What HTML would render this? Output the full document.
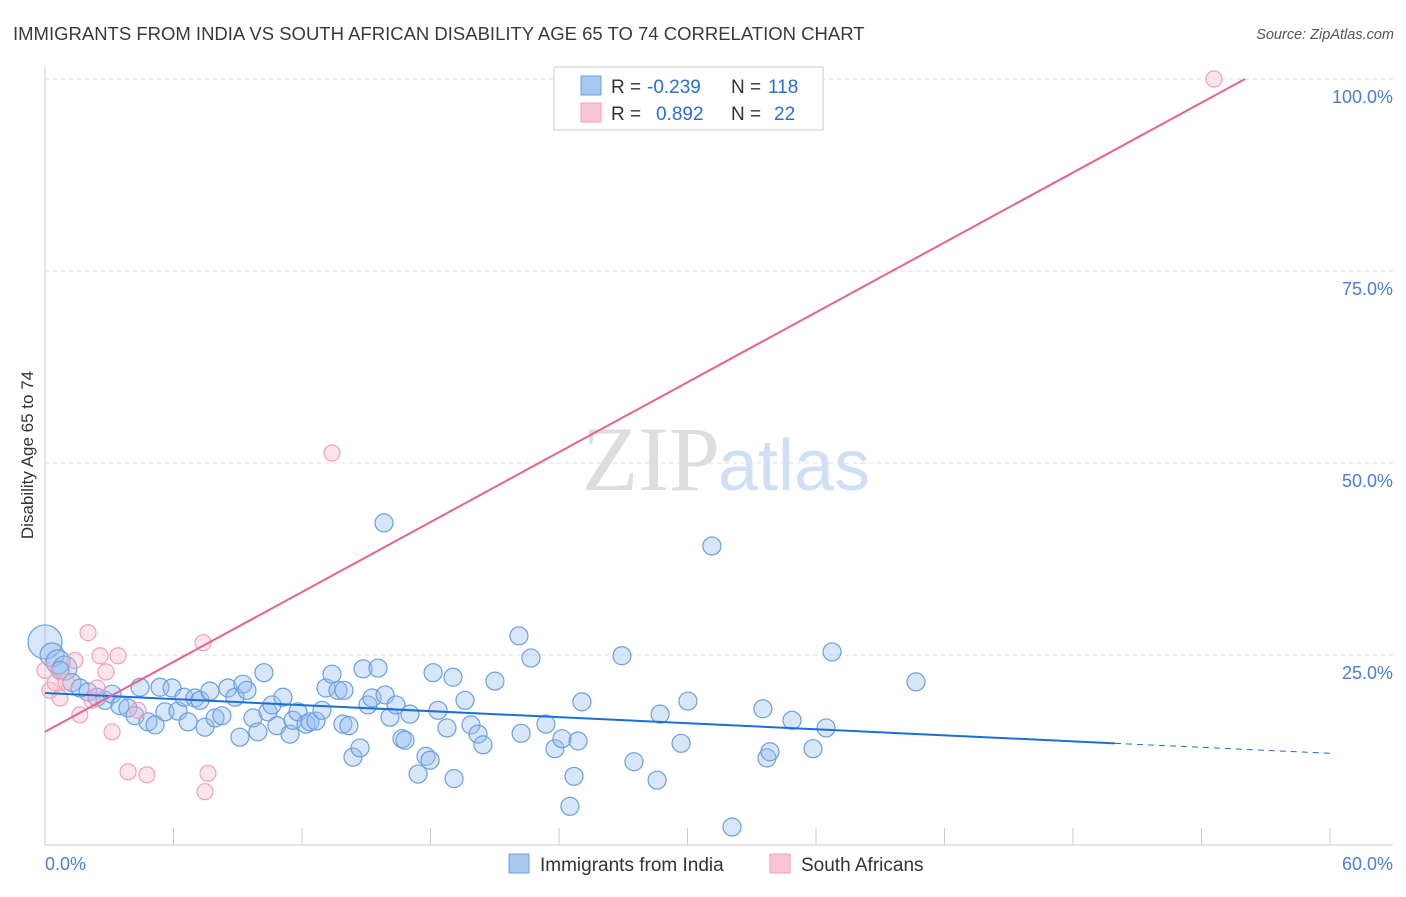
<!DOCTYPE html>
<html><head><meta charset="utf-8"><style>
body{margin:0;background:#fff;font-family:"Liberation Sans",sans-serif}
</style></head><body>
<svg id="c" width="1406" height="892" xmlns="http://www.w3.org/2000/svg" style="font-family:'Liberation Sans',sans-serif">
<text x="13" y="40" font-size="18.5" fill="#3a3a3a">IMMIGRANTS FROM INDIA VS SOUTH AFRICAN DISABILITY AGE 65 TO 74 CORRELATION CHART</text>
<text x="1394" y="39" font-size="14.5" fill="#555" text-anchor="end" font-style="italic">Source: ZipAtlas.com</text>
<text transform="translate(33,455) rotate(-90)" font-size="17" fill="#333" text-anchor="middle">Disability Age 65 to 74</text>
<text x="720" y="490" font-size="92" fill="#ddd" text-anchor="end" font-family="Liberation Serif,serif">ZIP</text>
<text x="718" y="490" font-size="72" fill="#cfe0f5">atlas</text>
<g id="grid"></g><g id="marks"></g>
<g>
<rect x="554" y="67" width="269" height="63" fill="#fff" stroke="#ccc"/>
<rect x="581" y="76" width="20" height="19" fill="#a8c8f0" stroke="#6a9fe0"/>
<rect x="581" y="103" width="20" height="19" fill="#f9c6d4" stroke="#f0a0b8"/>
<text x="611" y="93" font-size="19" fill="#333">R =</text>
<text x="647" y="93" font-size="19" fill="#2a6fd0">-0.239</text>
<text x="731" y="93" font-size="19" fill="#333">N =</text>
<text x="768" y="93" font-size="19" fill="#2a6fd0">118</text>
<text x="611" y="120" font-size="19" fill="#333">R =</text>
<text x="656" y="120" font-size="19" fill="#2a6fd0">0.892</text>
<text x="731" y="120" font-size="19" fill="#333">N =</text>
<text x="774" y="120" font-size="19" fill="#2a6fd0">22</text>
</g>
<text x="45" y="870" font-size="18" fill="#4a7fd4">0.0%</text>
<text x="1393" y="870" font-size="18" fill="#4a7fd4" text-anchor="end">60.0%</text>
<g>
<rect x="509" y="854" width="20" height="19" fill="#a8c8f0" stroke="#6a9fe0"/>
<text x="540" y="871" font-size="19" fill="#333">Immigrants from India</text>
<rect x="770" y="854" width="20" height="19" fill="#f9c6d4" stroke="#f0a0b8"/>
<text x="801" y="871" font-size="19" fill="#333">South Africans</text>
</g>
</svg>
<script>
const yTicks=[25,50,75,100];
const yTickLabels=["25.0%","50.0%","75.0%","100.0%"];
const indiaX=[0,0.33,0.61,0.93,0.70,1.26,1.63,2.01,2.43,2.80,3.13,3.50,3.87,4.20,4.44,4.81,5.14,5.37,5.60,5.93,6.21,6.49,6.68,7.00,7.24,7.47,7.70,7.94,8.26,8.54,8.87,9.10,9.24,9.43,9.71,9.94,10.22,10.41,10.60,10.83,11.11,11.44,11.58,11.81,12.19,12.37,12.65,12.93,13.12,13.40,13.68,13.96,13.91,14.19,14.38,14.71,14.85,15.08,15.27,15.55,15.88,15.83,16.11,16.39,16.67,16.81,17.04,17.42,17.79,17.98,18.12,18.35,18.77,19.05,19.10,19.61,19.89,20.22,20.45,21.01,22.13,22.23,22.69,23.39,23.81,24.14,24.51,24.70,24.89,25.07,26.94,27.50,28.58,28.72,29.70,30.02,31.14,32.08,33.52,33.71,33.85,34.88,35.86,36.47,36.75,40.67];
const indiaY=[26.7,25.0,24.1,23.3,23.0,21.4,20.7,20.2,19.5,19.1,19.9,18.4,18.1,17.1,20.8,16.3,15.9,20.8,17.6,20.7,17.7,19.5,16.3,19.4,19.1,15.6,20.3,16.8,17.1,20.7,19.5,14.3,21.2,20.4,16.8,15.0,22.7,17.6,18.5,15.8,19.5,14.7,16.5,17.6,16.0,16.3,16.4,17.8,20.7,22.5,20.4,20.4,16.0,15.8,11.7,12.9,23.2,18.5,19.4,23.3,19.8,42.2,16.9,18.5,14.1,13.9,17.3,9.5,11.8,11.3,22.7,17.8,15.5,22.1,8.9,19.1,15.9,14.7,13.3,21.6,27.5,14.8,24.6,16.0,12.8,14.1,5.3,9.2,13.8,18.9,24.9,11.1,8.7,17.3,13.5,19.0,39.2,2.6,18.0,11.6,12.4,16.5,12.8,15.5,25.4,21.5];
const saX=[0,0.23,0.47,0.70,0.98,1.40,1.63,2.01,2.19,2.43,2.57,2.85,3.13,3.41,3.88,4.34,4.76,7.38,7.61,7.47,13.40,54.58];
const saY=[23.0,20.4,21.4,19.4,21.5,24.3,17.2,27.9,19.1,20.7,24.9,22.8,15.0,24.9,9.8,17.8,9.4,26.6,9.6,7.2,51.3,100];
const indiaTrend=[[0,20.05],[49.96,13.5]];
const indiaTrendExt=[[49.96,13.5],[60,12.2]];
const saTrend=[[0,15.0],[56.03,100]];
const X=v=>45+v*(1285/60), Y=v=>847-v*7.68;
const NS="http://www.w3.org/2000/svg";
const grid=document.getElementById('grid'),marks=document.getElementById('marks');
function mk(tag,attrs,parent){const e=document.createElementNS(NS,tag);for(const k in attrs)e.setAttribute(k,attrs[k]);parent.appendChild(e);return e;}
let ax=mk('line',{x1:45,y1:67,x2:45,y2:845,stroke:'#ccc'},grid);


let bx=mk('line',{x1:45,y1:845,x2:1393,y2:845,stroke:'#ccc'},grid);


for(let i=0;i<=10;i++){const t=mk('line',{x1:X(i*6),x2:X(i*6),y1:828,y2:845,stroke:'#ccc'},grid);

}
yTicks.forEach((v,i)=>{const g=mk('line',{x1:45,x2:1393,y1:Y(v),y2:Y(v),stroke:'#ddd','stroke-dasharray':'4,4'},grid);


const t=mk('text',{x:1393,y:Y(v)+24,'font-size':18,fill:'#4a7fd4','text-anchor':'end'},grid);t.textContent=yTickLabels[i];

});
indiaX.forEach((v,i)=>{const c=mk('circle',{cx:X(v),cy:Y(indiaY[i]),r:i==0?17:(i<4?12:9),fill:'rgba(150,190,240,0.38)',stroke:'#6a9fe0','stroke-width':1.2},marks);

});
saX.forEach((v,i)=>{const c=mk('circle',{cx:X(v),cy:Y(saY[i]),r:8,fill:'rgba(248,180,200,0.35)',stroke:'#f0a0b8','stroke-width':1.2},marks);

});
let l1=mk('line',{x1:X(indiaTrend[0][0]),y1:Y(indiaTrend[0][1]),x2:X(indiaTrend[1][0]),y2:Y(indiaTrend[1][1]),stroke:'#1a6fd8','stroke-width':2},marks);


let l2=mk('line',{x1:X(indiaTrendExt[0][0]),y1:Y(indiaTrendExt[0][1]),x2:X(indiaTrendExt[1][0]),y2:Y(indiaTrendExt[1][1]),stroke:'#1a6fd8','stroke-width':1,'stroke-dasharray':'6,5'},marks);


let l3=mk('line',{x1:X(saTrend[0][0]),y1:Y(saTrend[0][1]),x2:X(saTrend[1][0]),y2:Y(saTrend[1][1]),stroke:'#e8628e','stroke-width':2},marks);


</script>
</body></html>
